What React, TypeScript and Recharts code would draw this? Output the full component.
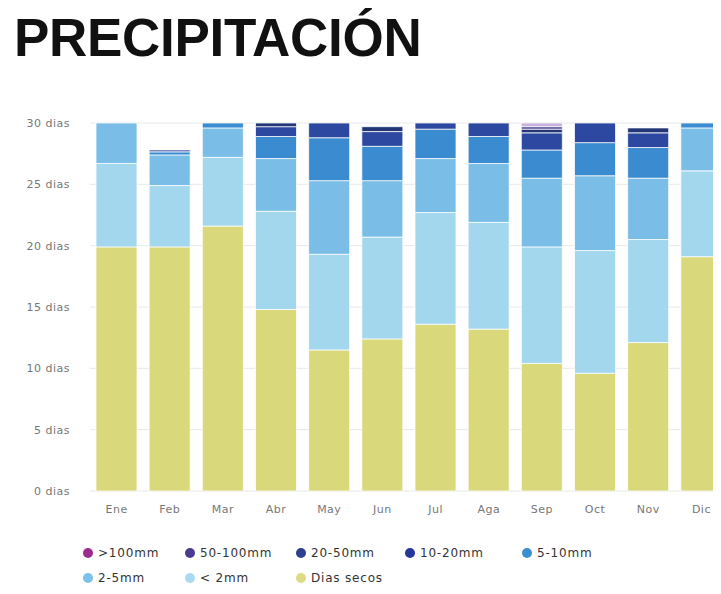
import React from 'react';
import { BarChart, Bar, XAxis, YAxis, CartesianGrid, Legend } from 'recharts';

const months = ['Ene', 'Feb', 'Mar', 'Abr', 'May', 'Jun', 'Jul', 'Aga', 'Sep', 'Oct', 'Nov', 'Dic'];
const diasSecos = [19.9, 19.9, 21.6, 14.8, 11.5, 12.4, 13.6, 13.2, 10.4, 9.6, 12.1, 19.1];
const menos2 = [6.8, 5.0, 5.6, 8.0, 7.8, 8.3, 9.1, 8.7, 9.5, 10.0, 8.4, 7.0];
const mm2a5 = [3.3, 2.5, 2.4, 4.3, 6.0, 4.6, 4.4, 4.8, 5.6, 6.1, 5.0, 3.5];
const mm5a10 = [0, 0.25, 0.4, 1.8, 3.5, 2.8, 2.4, 2.2, 2.3, 2.7, 2.5, 0.4];
const mm10a20 = [0, 0.15, 0, 0.8, 1.2, 1.2, 0.5, 1.1, 1.4, 1.6, 1.2, 0];
const mm20a50 = [0, 0, 0, 0.3, 0, 0.4, 0, 0, 0.3, 0, 0.4, 0];
const mm50a100 = [0, 0, 0, 0, 0, 0, 0, 0, 0.2, 0, 0, 0];
const mas100 = [0, 0, 0, 0, 0, 0, 0, 0, 0.3, 0, 0, 0];
const yTicks = [0, 5, 10, 15, 20, 25, 30];

// stacking order bottom -> top
const series = [
  { key: 'secos', name: 'Dias secos', values: diasSecos, fill: '#d9d87b', dot: '#dcdc86' },
  { key: 'lt2', name: '< 2mm', values: menos2, fill: '#a3d7ee', dot: '#a9dbf0' },
  { key: 'm2', name: '2-5mm', values: mm2a5, fill: '#7abee7', dot: '#7cc1ea' },
  { key: 'm5', name: '5-10mm', values: mm5a10, fill: '#3a8bcf', dot: '#3b8ecf' },
  { key: 'm10', name: '10-20mm', values: mm10a20, fill: '#2c48a0', dot: '#23389a' },
  { key: 'm20', name: '20-50mm', values: mm20a50, fill: '#213577', dot: '#2e3f8c' },
  { key: 'm50', name: '50-100mm', values: mm50a100, fill: '#4a4090', dot: '#4b3a8f' },
  { key: 'm100', name: '>100mm', values: mas100, fill: '#c6b0dc', dot: '#9b2d8e' },
];

const data = months.map((m, i) => {
  const row: Record<string, string | number> = { month: m };
  series.forEach((s) => { row[s.key] = s.values[i]; });
  return row;
});

// legend rows as in the picture
const legendRows = [
  ['m100', 'm50', 'm20', 'm10', 'm5'],
  ['m2', 'lt2', 'secos'],
];
const legendCols = [75, 177, 288, 397, 514];

const tickFont = { fontFamily: 'DejaVu Sans', fontSize: 11, fill: '#777', letterSpacing: 0.5 };

function LegendBox() {
  return (
    <div style={{ position: 'relative', width: 730, height: 50 }}>
      {legendRows.map((row, r) =>
        row.map((k, c) => {
          const s = series.find((x) => x.key === k)!;
          return (
            <div
              key={k}
              style={{
                position: 'absolute', left: legendCols[c], top: r * 25,
                height: 16, display: 'flex', alignItems: 'center',
                fontFamily: 'DejaVu Sans', fontSize: 12, color: '#333', letterSpacing: 0.8,
                whiteSpace: 'nowrap',
              }}
            >
              <span style={{ width: 10, height: 10, borderRadius: 5, background: s.dot, marginRight: 5 }} />
              {s.name}
            </div>
          );
        })
      )}
    </div>
  );
}

export default function App() {
  return (
    <div style={{ position: 'relative', width: 713, height: 586, overflow: 'hidden', background: '#fff' }}>
      <div
        style={{
          position: 'absolute', left: 6, top: 3, fontFamily: 'Liberation Sans, Arial, sans-serif',
          fontWeight: 700, fontSize: 53, lineHeight: 1, letterSpacing: -0.3, color: '#111',
        }}
      >
        PRECIPITACIÓN
      </div>
      <div style={{ position: 'absolute', left: 0, top: 92 }}>
        <BarChart width={730} height={495} data={data} margin={{ top: 23, right: 10, bottom: 0, left: 0 }}>
          <CartesianGrid vertical={false} stroke="#e8e8e8" />
          <XAxis
            dataKey="month" axisLine={false} tickLine={false} tickSize={0} tickMargin={14}
            height={54} tick={tickFont} interval={0}
          />
          <YAxis
            width={82} domain={[0, 30]} ticks={yTicks} allowDataOverflow axisLine={false}
            tickLine={false} tickSize={0} tickMargin={20} tick={tickFont}
            tickFormatter={(v) => `${v} dias`}
          />
          <Legend
            verticalAlign="bottom" content={() => <LegendBox />}
            wrapperStyle={{ left: 0, top: 445, width: 730, height: 50 }}
          />
          {series.map((s) => (
            <Bar
              key={s.key} dataKey={s.key} name={s.name} stackId="a" fill={s.fill}
              stroke="rgba(255,255,255,0.75)" strokeWidth={1} barSize={41}
              isAnimationActive={false}
            />
          ))}
        </BarChart>
      </div>
    </div>
  );
}
